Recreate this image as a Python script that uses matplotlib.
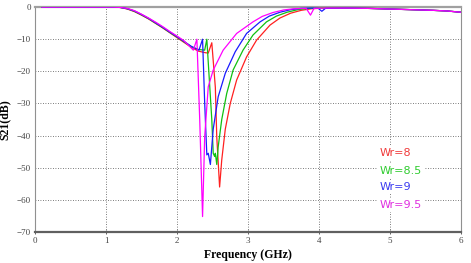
import matplotlib
matplotlib.use('Agg')
from matplotlib import pyplot as plt

# S21 curves (frequency in GHz, S21 in dB)
f_wr8 = [0.1, 1.1, 1.2, 1.3, 1.4, 1.5, 1.6, 1.7, 1.8, 1.9, 2.0, 2.1, 2.2, 2.3, 2.4, 2.44,
         2.49, 2.54, 2.56, 2.60, 2.63, 2.68, 2.75, 2.84, 2.98, 3.12, 3.31, 3.45, 3.6, 3.75,
         3.9, 4.1, 4.4, 4.7, 5.0, 5.3, 5.6, 5.8, 6.0]
s_wr8 = [0, 0, -0.1, -0.6, -1.4, -2.5, -3.7, -5.1, -6.5, -8.0, -9.5, -11.0, -12.5, -13.7, -14.2, -14.3,
         -11.1, -25.0, -40.4, -56.0, -47.6, -38.0, -30.0, -22.7, -15.5, -10.3, -5.6, -3.4, -1.9, -1.0,
         -0.5, -0.3, -0.3, -0.4, -0.6, -0.8, -1.0, -1.2, -1.6]

f_wr85 = [0.1, 1.1, 1.2, 1.3, 1.4, 1.5, 1.6, 1.7, 1.8, 1.9, 2.0, 2.1, 2.2, 2.3, 2.39,
          2.42, 2.49, 2.51, 2.53, 2.54, 2.56, 2.58, 2.63, 2.70, 2.79, 2.93, 3.07, 3.26, 3.4,
          3.55, 3.7, 3.85, 4.1, 4.4, 4.7, 5.0, 5.3, 5.6, 5.8, 6.0]
s_wr85 = [0, 0, -0.1, -0.5, -1.3, -2.4, -3.6, -5.0, -6.4, -7.9, -9.3, -10.8, -12.3, -13.2, -13.4,
          -10.0, -35.0, -45.5, -46.5, -45.5, -49.0, -43.5, -35.0, -26.9, -19.6, -13.4, -8.7, -4.6, -2.8,
          -1.6, -0.8, -0.4, -0.3, -0.3, -0.4, -0.6, -0.8, -1.0, -1.2, -1.6]

f_wr9 = [0.1, 1.1, 1.2, 1.3, 1.4, 1.5, 1.6, 1.7, 1.8, 1.9, 2.0, 2.1, 2.2, 2.31, 2.36,
         2.39, 2.42, 2.44, 2.47, 2.51, 2.58, 2.68, 2.82, 2.98, 3.17, 3.3, 3.45, 3.6, 3.75,
         3.9, 3.99, 4.04, 4.09, 4.4, 4.7, 5.0, 5.3, 5.6, 5.8, 6.0]
s_wr9 = [0, 0, -0.1, -0.5, -1.2, -2.3, -3.5, -4.9, -6.3, -7.8, -9.2, -10.7, -12.2, -13.4, -10.0,
         -29.9, -46.0, -45.5, -49.0, -38.0, -27.9, -20.6, -13.9, -8.2, -4.6, -2.8, -1.6, -0.8, -0.4,
         -0.3, -0.4, -1.3, -0.4, -0.3, -0.4, -0.6, -0.8, -1.0, -1.2, -1.6]

f_wr95 = [0.1, 1.1, 1.2, 1.3, 1.4, 1.5, 1.6, 1.7, 1.8, 1.9, 2.0, 2.1, 2.23, 2.28, 2.32,
          2.36, 2.39, 2.44, 2.51, 2.65, 2.84, 3.07, 3.2, 3.35, 3.5, 3.65, 3.82, 3.88, 3.93,
          4.1, 4.4, 4.7, 5.0, 5.3, 5.6, 5.8, 6.0]
s_wr95 = [0, 0, -0.1, -0.4, -1.1, -2.2, -3.4, -4.7, -6.1, -7.6, -9.0, -10.5, -13.4, -10.0, -35.0,
          -65.2, -40.3, -24.8, -19.6, -13.4, -8.2, -4.6, -2.9, -1.7, -0.9, -0.5, -0.4, -2.5, -0.4,
          -0.3, -0.3, -0.4, -0.6, -0.8, -1.0, -1.2, -1.6]

labels = ['Wr=8', 'Wr=8.5', 'Wr=9', 'Wr=9.5']
colors = ['#ff2020', '#10c010', '#1a1aff', '#ff00ff']
text_colors = ['#f03a3a', '#30cc30', '#3a3af0', '#e030e0']
label_y = [-45.4, -51.0, -56.0, -61.6]

xticks = [0, 1, 2, 3, 4, 5, 6]
yticks = [0, -10, -20, -30, -40, -50, -60, -70]

fig = plt.figure(figsize=(4.71, 2.63), dpi=100)
ax = fig.add_axes([0.0743, 0.118, 0.9045, 0.855])

series = [(f_wr8, s_wr8), (f_wr85, s_wr85), (f_wr9, s_wr9), (f_wr95, s_wr95)]
for (f, s), c in zip(series, colors):
    ax.plot(f, s, color=c, lw=0.9, zorder=3)

ax.set_xlim(0, 6)
ax.set_ylim(-70, 0)
ax.set_xticks(xticks)
ax.set_yticks(yticks)
ax.grid(True, color='#505050', lw=0.6, linestyle=(0, (1, 2)))

for side in ['left', 'right']:
    ax.spines[side].set_color('#909090')
    ax.spines[side].set_linewidth(0.8)
ax.spines['top'].set_color('#a0a0a0')
ax.spines['top'].set_linewidth(1.6)
ax.spines['bottom'].set_color('#606060')
ax.spines['bottom'].set_linewidth(1.6)

ax.tick_params(axis='both', labelsize=6.5, colors='#444444', length=3, width=0.6)
ax.tick_params(axis='x', direction='inout', pad=2)
ax.tick_params(axis='y', direction='in', pad=3, length=0)
for t in ax.get_xticklabels() + ax.get_yticklabels():
    t.set_family('Liberation Serif')

ax.set_xlabel('Frequency (GHz)', family='Liberation Serif', fontweight='bold', fontsize=8.5, labelpad=3)
ax.set_ylabel('S21(dB)', family='Liberation Serif', fontweight='bold', fontsize=8.5, labelpad=4)

for lab, tc, y in zip(labels, text_colors, label_y):
    ax.text(4.85, y, lab, color=tc, fontsize=8, family='DejaVu Sans', ha='left', va='center',
            bbox=dict(facecolor='white', edgecolor='none', pad=1.5), zorder=4)

fig.savefig('out.png', dpi=100)
